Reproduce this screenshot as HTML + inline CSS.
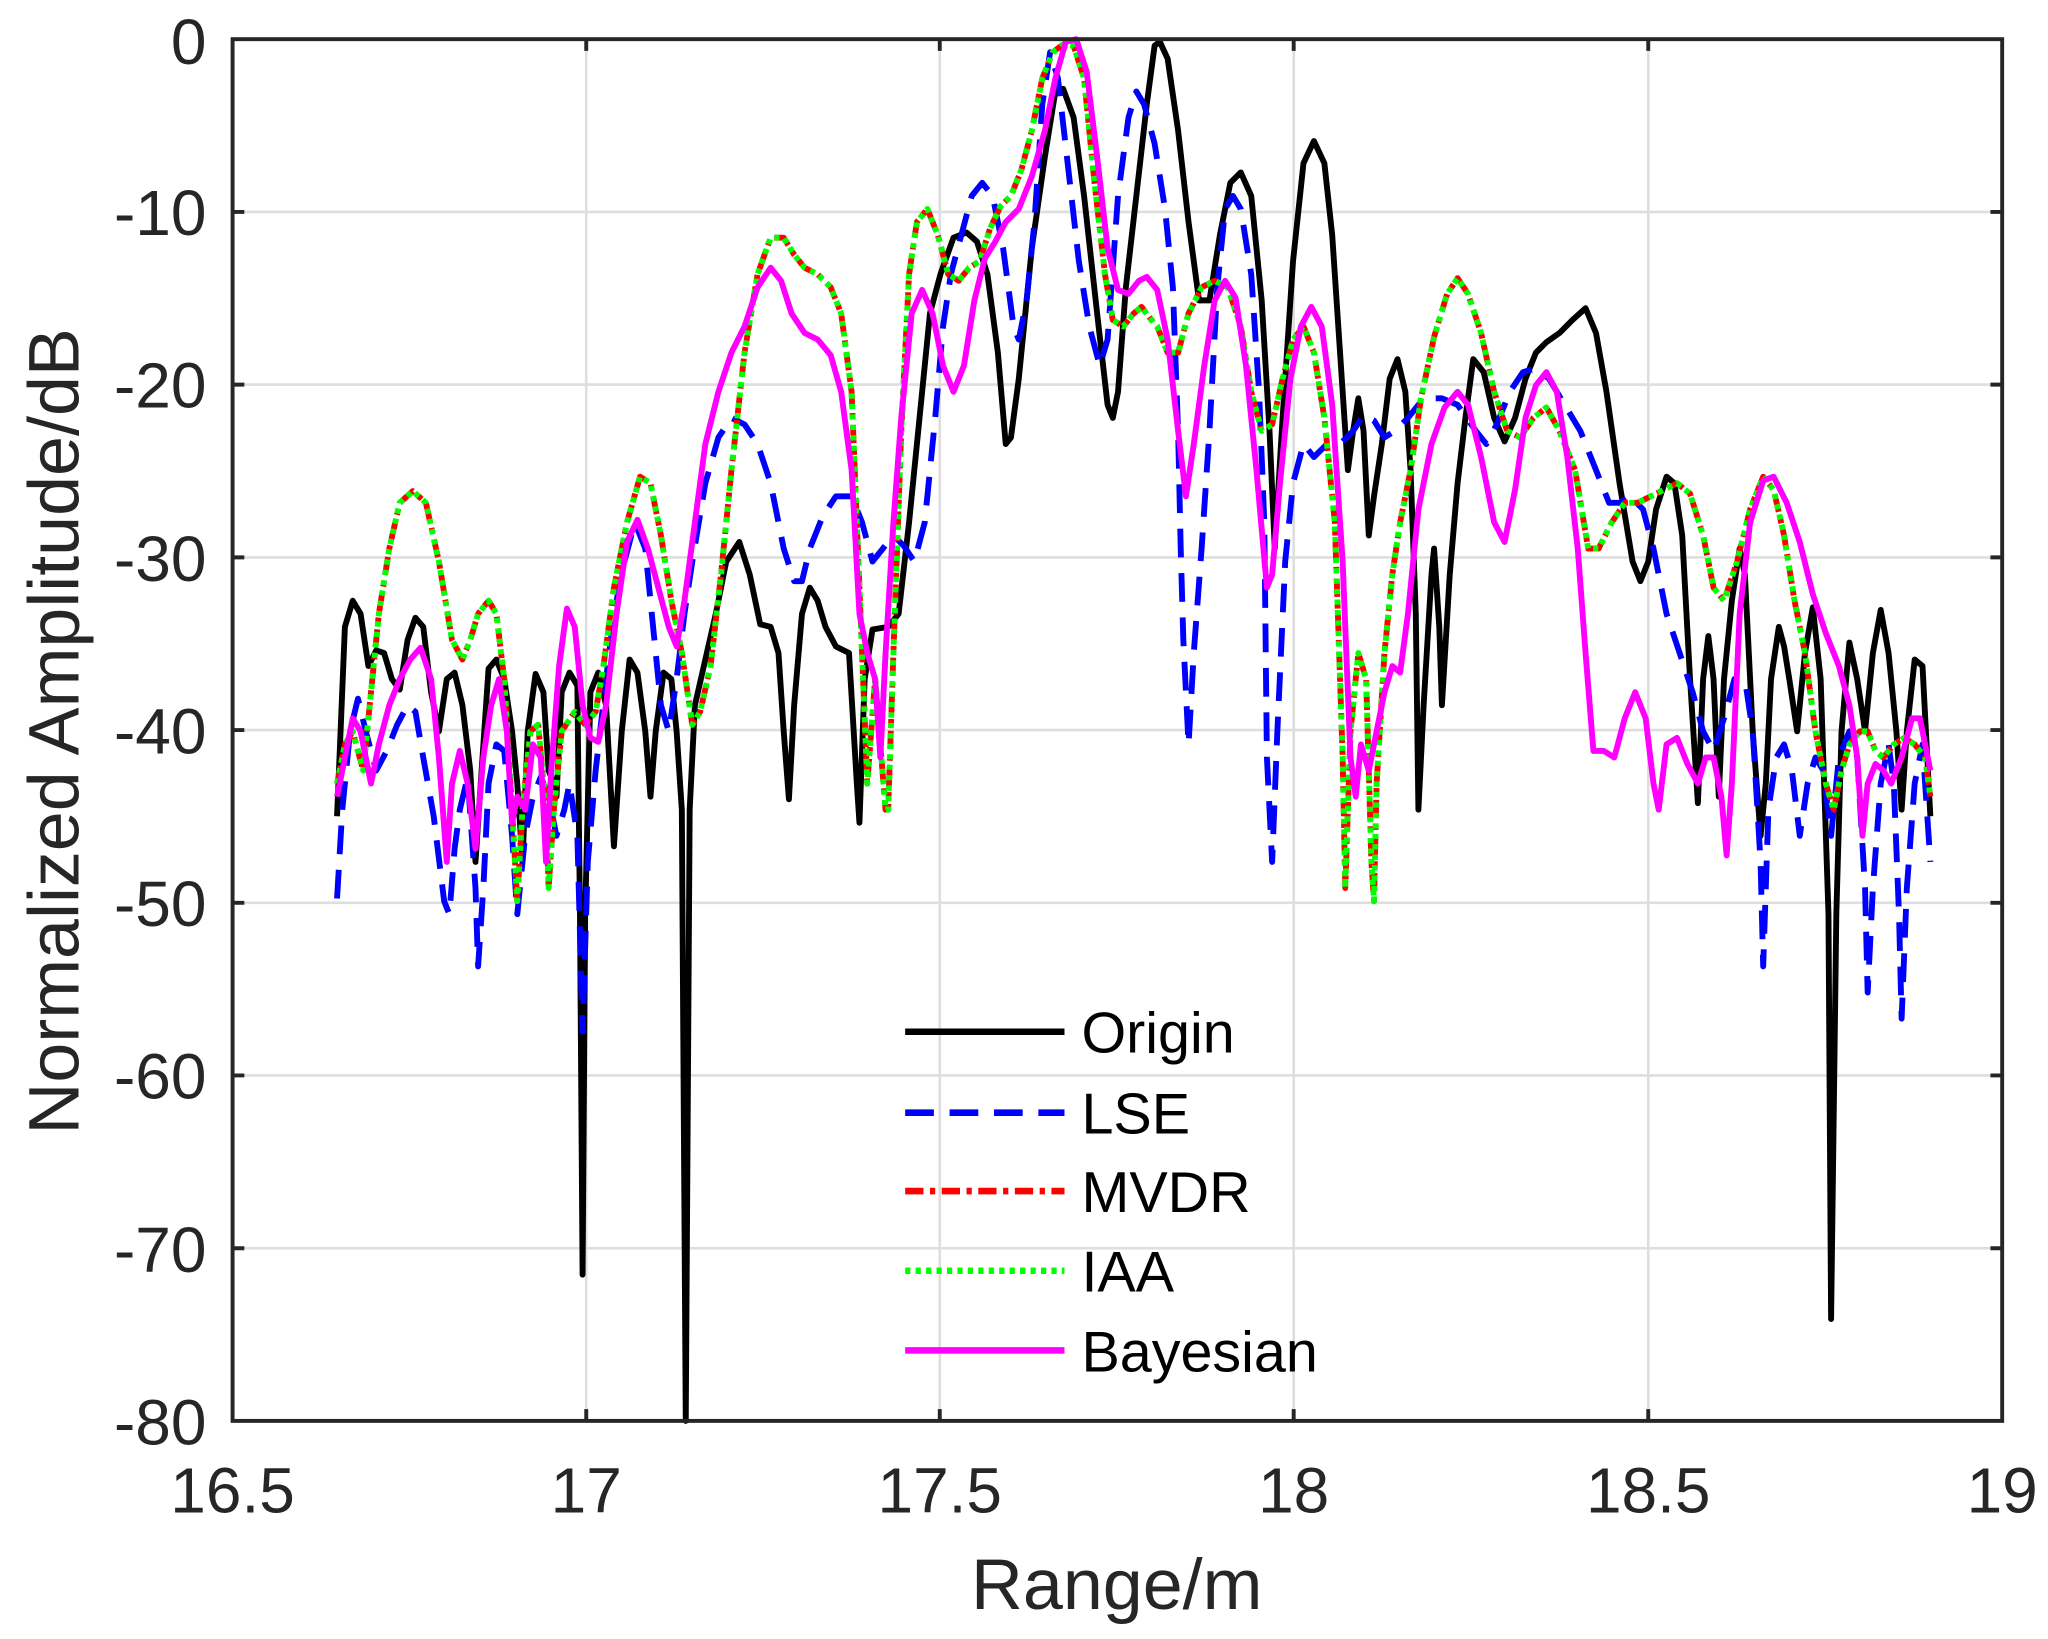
<!DOCTYPE html>
<html><head><meta charset="utf-8"><style>html,body{margin:0;padding:0;background:#fff}svg{display:block}</style></head><body>
<svg width="2048" height="1639" viewBox="0 0 1568 1255" xmlns="http://www.w3.org/2000/svg" font-family="Liberation Sans, Arial, sans-serif">
<rect width="1568" height="1255" fill="#fff"/>
<g stroke="#dedede" stroke-width="2">
<line x1="448.8" y1="30" x2="448.8" y2="1088"/><line x1="719.5" y1="30" x2="719.5" y2="1088"/><line x1="990.5" y1="30" x2="990.5" y2="1088"/><line x1="1262" y1="30" x2="1262" y2="1088"/>
<line x1="178" y1="162.3" x2="1533" y2="162.3"/><line x1="178" y1="294.5" x2="1533" y2="294.5"/><line x1="178" y1="426.8" x2="1533" y2="426.8"/><line x1="178" y1="559" x2="1533" y2="559"/><line x1="178" y1="691.3" x2="1533" y2="691.3"/><line x1="178" y1="823.5" x2="1533" y2="823.5"/><line x1="178" y1="955.8" x2="1533" y2="955.8"/>
</g>
<g fill="none" stroke-width="4.5" stroke-linejoin="round">
<polyline stroke="#000" points="258,625 264,480 270,460 276,470 282,510 288,498 294,500 300,520 306,528 312,490 318,473 324,480 330,530 336,560 342,520 348,515 354,540 360,590 364,660 368,600 374,512 380,505 386,520 392,560 396,600 400,660 404,560 410,516 416,530 420,590 424,600 426,610 430,530 436,515 442,525 444,700 446,976 448,700 452,530 458,515 464,540 470,648 476,560 482,505 488,515 494,560 498,610 502,560 508,515 514,520 518,560 522,620 525,1088 528,620 532,540 540,505 548,470 556,430 566,415 574,440 582,478 590,480 596,500 600,560 604,612 608,540 614,470 620,450 626,460 632,480 640,495 650,500 656,600 658,630 662,520 668,482 680,480 688,470 696,400 704,320 712,240 720,210 730,182 740,178 748,185 756,210 764,270 770,340 774,335 780,290 790,190 800,120 808,70 814,68 822,90 830,150 840,240 848,310 852,320 856,300 862,220 870,150 878,80 884,35 888,32 894,45 902,100 910,170 918,230 926,230 934,180 942,140 950,132 958,150 966,230 972,330 976,420 982,320 990,200 998,125 1006,108 1014,125 1020,180 1026,270 1032,360 1036,330 1040,305 1044,330 1048,410 1052,380 1058,340 1064,290 1070,275 1076,300 1080,360 1084,470 1086,620 1090,540 1096,440 1098,420 1102,480 1104,540 1110,440 1116,370 1122,320 1128,275 1136,285 1144,320 1152,338 1160,320 1168,290 1176,270 1184,262 1194,255 1204,245 1214,236 1222,255 1230,300 1240,370 1250,430 1256,445 1262,430 1268,390 1276,365 1282,370 1288,410 1294,520 1300,615 1304,520 1308,487 1312,520 1316,610 1320,520 1326,460 1332,420 1336,440 1342,560 1348,640 1352,600 1356,520 1362,480 1366,495 1370,520 1376,560 1382,500 1388,465 1394,520 1400,700 1402,1010 1406,700 1410,560 1416,492 1422,520 1428,560 1434,500 1440,467 1446,500 1452,560 1456,620 1460,560 1466,505 1472,510 1478,625"/>
<polyline stroke="#0000ff" stroke-dasharray="22,12" points="258,688 262,620 268,560 274,535 280,560 288,590 296,575 304,555 312,540 318,545 324,580 332,625 340,690 344,700 348,650 352,620 358,595 364,680 366,740 370,680 374,600 380,570 386,575 392,640 396,700 402,640 408,610 414,595 420,610 426,640 432,620 436,600 442,640 446,790 450,660 456,590 464,520 470,470 478,430 486,400 494,420 500,480 506,540 512,560 518,520 524,470 530,430 540,370 550,335 560,320 570,325 580,340 590,370 600,420 608,445 614,445 620,420 630,395 640,380 652,380 660,400 668,430 676,420 684,410 692,418 700,430 708,400 716,320 722,250 728,210 736,180 744,150 752,140 760,150 768,190 776,250 780,260 786,230 792,170 798,80 804,40 810,60 818,130 826,200 834,250 842,280 848,260 856,150 864,90 870,70 876,80 884,110 892,160 898,220 902,330 904,420 906,490 910,570 914,500 920,420 926,330 932,220 938,160 944,150 950,160 958,210 964,300 968,400 970,580 974,660 978,560 984,430 990,370 998,340 1006,350 1016,340 1026,340 1036,330 1044,318 1052,322 1060,335 1068,330 1078,320 1090,305 1104,305 1116,310 1130,330 1138,340 1146,325 1156,300 1166,285 1176,282 1186,290 1198,310 1210,330 1222,360 1232,385 1240,385 1248,380 1258,390 1266,420 1276,470 1286,500 1296,530 1304,560 1312,575 1320,550 1328,520 1336,520 1342,560 1348,660 1350,740 1354,620 1360,580 1366,570 1372,590 1378,640 1384,600 1390,580 1396,590 1402,640 1408,580 1416,560 1422,580 1428,680 1430,760 1434,680 1440,600 1446,570 1450,600 1454,700 1456,780 1460,680 1466,600 1472,570 1478,660"/>
<polyline stroke="#ff0000" stroke-dasharray="14,5,4,5" points="258,600 264,570 270,560 278,590 284,530 290,470 298,420 306,385 316,376 326,385 336,430 346,490 354,505 360,490 366,470 374,460 380,470 386,520 392,620 396,690 400,620 406,560 412,555 418,620 420,680 424,620 430,560 440,545 448,555 456,545 462,510 470,450 480,400 490,365 498,370 506,410 514,460 522,500 530,555 536,545 544,510 552,440 560,360 570,270 580,210 590,182 600,182 608,195 616,205 626,210 636,220 644,240 652,300 658,450 664,600 670,520 678,620 680,620 684,500 690,330 696,210 702,170 710,160 718,180 726,210 734,215 742,205 750,200 758,175 766,158 774,150 782,130 790,100 798,60 806,40 814,34 822,35 830,60 838,140 846,210 852,245 860,250 868,240 874,235 880,243 886,250 894,270 902,270 910,240 920,220 930,215 940,220 950,250 958,300 966,330 974,325 982,290 990,260 998,250 1006,270 1014,320 1022,400 1028,580 1030,680 1034,560 1040,500 1046,520 1050,660 1052,690 1054,600 1060,500 1066,440 1072,400 1080,360 1088,305 1098,258 1108,225 1116,213 1124,225 1134,255 1144,300 1154,330 1164,335 1174,320 1184,312 1194,330 1206,360 1216,420 1224,420 1234,400 1244,385 1254,385 1264,380 1274,375 1284,370 1294,378 1304,410 1312,450 1320,460 1330,430 1340,390 1350,365 1358,375 1366,410 1374,460 1382,500 1390,560 1398,600 1404,620 1410,590 1416,570 1424,560 1430,560 1436,575 1442,580 1450,570 1458,565 1466,570 1474,580 1478,610"/>
<polyline stroke="#00ff00" stroke-dasharray="4,4" points="258,600 264,570 270,560 278,590 284,530 290,470 298,420 306,385 316,376 326,385 336,430 346,490 354,505 360,490 366,470 374,460 380,470 386,520 392,620 396,690 400,620 406,560 412,555 418,620 420,680 424,620 430,560 440,545 448,555 456,545 462,510 470,450 480,400 490,365 498,370 506,410 514,460 522,500 530,555 536,545 544,510 552,440 560,360 570,270 580,210 590,182 600,182 608,195 616,205 626,210 636,220 644,240 652,300 658,450 664,600 670,520 678,620 680,620 684,500 690,330 696,210 702,170 710,160 718,180 726,210 734,215 742,205 750,200 758,175 766,158 774,150 782,130 790,100 798,60 806,40 814,34 822,35 830,60 838,140 846,210 852,245 860,250 868,240 874,235 880,243 886,250 894,270 902,270 910,240 920,220 930,215 940,220 950,250 958,300 966,330 974,325 982,290 990,260 998,250 1006,270 1014,320 1022,400 1028,580 1030,680 1034,560 1040,500 1046,520 1050,660 1052,690 1054,600 1060,500 1066,440 1072,400 1080,360 1088,305 1098,258 1108,225 1116,213 1124,225 1134,255 1144,300 1154,330 1164,335 1174,320 1184,312 1194,330 1206,360 1216,420 1224,420 1234,400 1244,385 1254,385 1264,380 1274,375 1284,370 1294,378 1304,410 1312,450 1320,460 1330,430 1340,390 1350,365 1358,375 1366,410 1374,460 1382,500 1390,560 1398,600 1404,620 1410,590 1416,570 1424,560 1430,560 1436,575 1442,580 1450,570 1458,565 1466,570 1474,580 1478,610"/>
<polyline stroke="#ff00ff" points="258,610 264,580 270,550 276,560 284,600 290,570 298,540 306,520 314,505 322,496 330,520 336,580 342,660 346,600 352,575 358,600 364,650 370,580 376,540 382,520 388,560 392,630 396,610 402,620 408,570 414,580 418,660 422,590 428,510 434,466 440,480 446,540 452,565 458,568 464,540 472,470 480,415 488,398 496,420 504,450 512,480 518,495 524,460 532,400 540,340 550,300 560,270 570,250 580,220 590,205 598,215 606,240 616,255 626,260 636,272 644,300 652,360 658,470 664,500 670,520 674,580 678,500 684,400 690,320 698,240 706,222 714,240 722,280 730,300 738,280 746,230 754,198 762,185 770,170 780,160 790,135 800,100 808,60 816,32 824,30 832,55 840,120 848,190 856,222 864,225 872,215 878,212 886,222 894,260 902,330 908,380 914,340 922,280 930,230 938,215 946,228 954,280 962,360 970,450 974,440 980,370 988,290 996,250 1004,235 1012,250 1020,310 1028,430 1034,580 1038,610 1042,570 1048,590 1054,560 1060,530 1066,510 1072,515 1078,470 1086,390 1096,340 1106,312 1116,300 1124,310 1134,350 1144,400 1152,415 1160,375 1168,320 1176,295 1184,285 1192,300 1200,350 1208,420 1214,500 1220,575 1228,575 1236,580 1244,550 1252,530 1260,550 1266,600 1270,620 1276,570 1284,565 1292,585 1300,600 1306,580 1312,580 1318,610 1322,655 1326,600 1332,470 1340,400 1350,368 1358,365 1368,385 1378,415 1388,455 1398,485 1408,510 1416,540 1422,580 1426,640 1430,600 1436,585 1442,590 1448,600 1456,580 1464,550 1470,550 1478,590"/>
</g>
<g fill="none" stroke-width="5">
<line x1="693" y1="790" x2="815" y2="790" stroke="#000"/>
<line x1="693" y1="852" x2="815" y2="852" stroke="#0000ff" stroke-dasharray="22,12"/>
<line x1="693" y1="912" x2="815" y2="912" stroke="#ff0000" stroke-dasharray="14,5,4,5"/>
<line x1="693" y1="973" x2="815" y2="973" stroke="#00ff00" stroke-dasharray="4,4"/>
<line x1="693" y1="1034" x2="815" y2="1034" stroke="#ff00ff"/>
</g>
<g font-size="44" fill="#000">
<text x="828" y="806">Origin</text><text x="828" y="868">LSE</text><text x="828" y="928">MVDR</text><text x="828" y="989">IAA</text><text x="828" y="1050">Bayesian</text>
</g>
<g stroke="#262626" stroke-width="3" fill="none">
<rect x="178" y="30" width="1355" height="1058"/>
<path d="M448.8,30v9M719.5,30v9M990.5,30v9M1262,30v9M448.8,1088v-9M719.5,1088v-9M990.5,1088v-9M1262,1088v-9M178,162.3h9M178,294.5h9M178,426.8h9M178,559h9M178,691.3h9M178,823.5h9M178,955.8h9M1533,162.3h-9M1533,294.5h-9M1533,426.8h-9M1533,559h-9M1533,691.3h-9M1533,823.5h-9M1533,955.8h-9"/>
</g>
<g font-size="49" fill="#262626" text-anchor="end">
<text x="158" y="49">0</text><text x="158" y="180">-10</text><text x="158" y="312">-20</text><text x="158" y="445">-30</text><text x="158" y="577">-40</text><text x="158" y="709">-50</text><text x="158" y="841">-60</text><text x="158" y="974">-70</text><text x="158" y="1106">-80</text>
</g>
<g font-size="49" fill="#262626" text-anchor="middle">
<text x="178" y="1158">16.5</text><text x="448.8" y="1158">17</text><text x="719.5" y="1158">17.5</text><text x="990.5" y="1158">18</text><text x="1262" y="1158">18.5</text><text x="1533" y="1158">19</text>
</g>
<text x="855" y="1232" font-size="55" fill="#262626" text-anchor="middle">Range/m</text>
<text transform="translate(60,560) rotate(-90)" font-size="55" fill="#262626" text-anchor="middle">Normalized Amplitude/dB</text>
</svg>
</body></html>
